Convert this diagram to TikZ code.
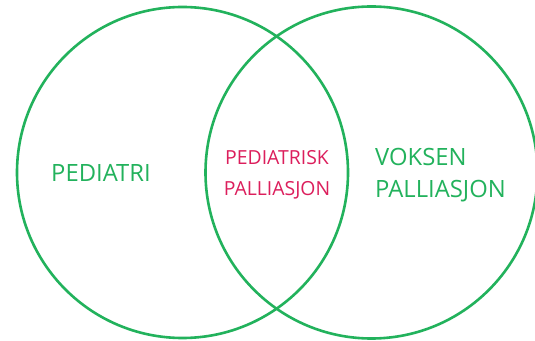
\documentclass[tikz,border=0pt]{standalone}
\usepackage{fontspec}
\setmainfont{Open Sans}
\definecolor{vgreen}{RGB}{34,178,92}
\definecolor{vpink}{RGB}{220,30,92}
\begin{document}
\begin{tikzpicture}[x=1pt,y=1pt,
  ring/.style={circle,draw=vgreen,line width=2.6pt,inner sep=0pt,minimum size=331pt},
  biglabel/.style={text=vgreen,font=\fontsize{23.8}{32}\selectfont,inner sep=0pt,anchor=base west},
  midlabel/.style={text=vpink,font=\fontsize{19.4}{31}\selectfont,inner sep=0pt,anchor=base}]
\useasboundingbox (0,0) rectangle (535,340);
\clip (0,0) rectangle (535,340);
\fill[white] (0,0) rectangle (535,340);
\node[ring] (left) at (182.5,167.5) {};
\node[ring,minimum size=332pt] (right) at (371.5,167.5) {};
\node[biglabel] (pediatri) at (51,158) {PEDIATRI};
\node[biglabel] (voksen) at (375,174) {VOKSEN};
\node[biglabel] (voksenpal) at (375,142) {PALLIASJON};
\node[midlabel] (pedtrisk) at (277,175) {PEDIATRISK};
\node[midlabel] (pedpal) at (277,144) {PALLIASJON};
\end{tikzpicture}
\end{document}
